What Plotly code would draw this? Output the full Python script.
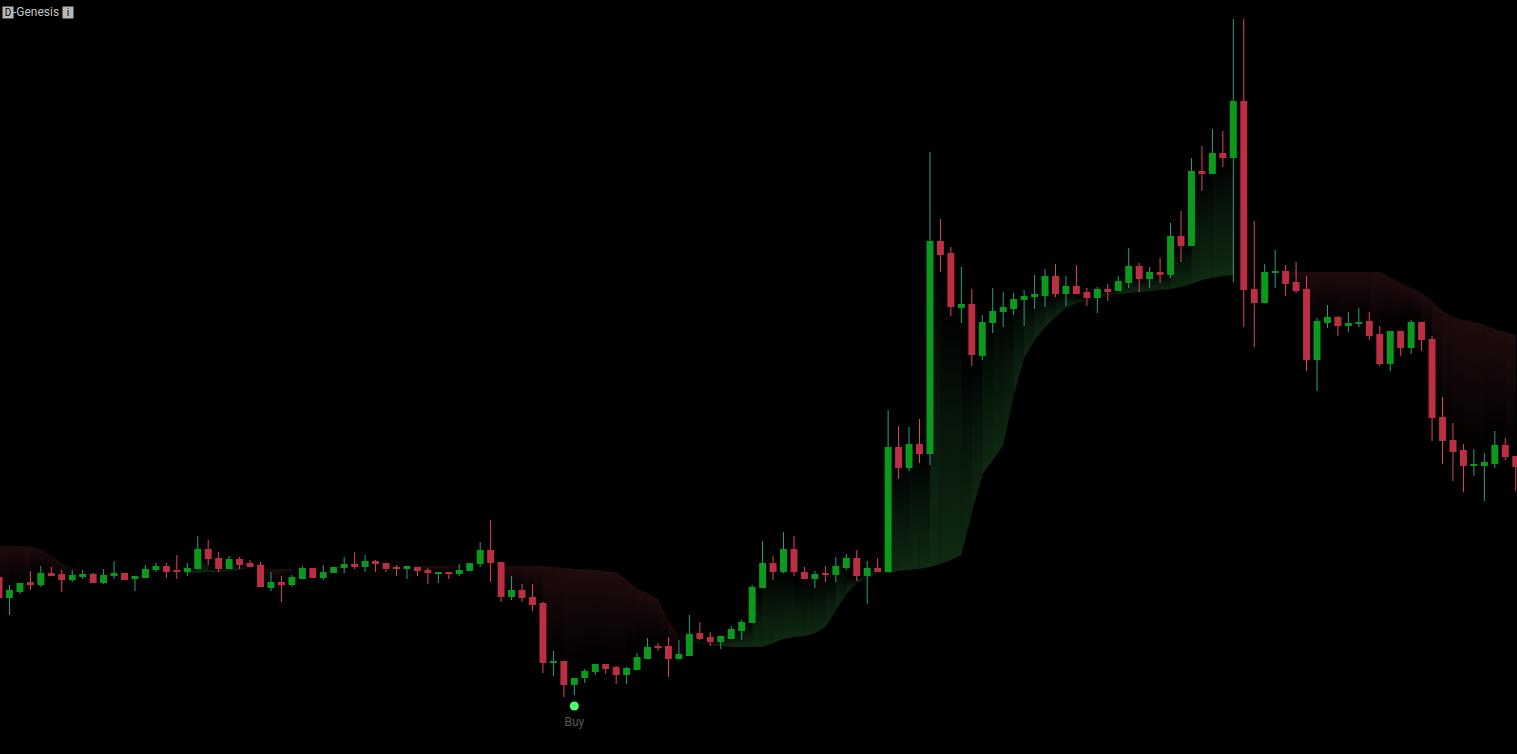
import plotly.graph_objects as go

opens = [177,156,162,172,169,181,180,174,177,180,171,178,181,175,176,184,188,184,182,185,205,196,185,195,191,189,166,172,169,175,186,176,181,186,190,187,193,191,187,185,187,184,180,182,180,183,190,204,192,157,164,157,151,91,93,69,76,82,90,87,79,84,95,108,108,95,98,121,117,112,115,123,131,166,191,182,205,182,175,181,179,186,196,178,186,182,307,286,310,300,513,501,446,450,398,431,442,445,454,457,458,478,460,468,462,456,465,463,471,488,475,482,479,518,508,583,580,601,596,653,465,451,481,483,472,465,394,431,437,428,430,433,420,390,423,406,432,415,337,314,304,288,288,290,309,298]
highs = [177,169,171,183,188,187,184,184,184,181,185,193,181,178,189,191,191,199,191,218,214,202,198,197,194,192,182,178,179,188,186,189,187,197,202,199,194,191,189,188,187,186,182,182,190,191,212,234,192,178,170,170,152,103,93,76,85,90,90,88,87,101,116,111,117,114,139,132,122,118,128,134,169,213,198,222,218,187,183,188,197,200,204,193,196,344,328,327,335,602,535,507,487,465,439,466,462,461,464,479,485,490,478,489,466,467,470,478,506,491,487,496,531,543,596,608,625,623,735,735,533,490,504,489,492,478,436,449,438,442,446,442,428,423,423,434,432,418,357,331,310,305,301,323,316,298]
lows = [156,139,160,164,167,178,162,172,175,171,170,175,174,163,176,182,176,175,178,185,189,182,185,185,187,167,163,152,167,175,176,174,181,181,185,182,182,182,178,175,178,170,171,175,178,183,187,172,152,154,152,143,81,78,57,59,71,79,80,70,70,84,95,103,77,95,98,114,108,105,115,114,131,166,174,181,178,175,166,172,172,184,173,150,182,182,275,283,291,289,482,438,431,388,394,421,427,439,428,445,447,457,448,460,448,441,453,463,466,462,466,471,476,492,508,563,580,587,472,427,407,451,466,458,461,383,363,426,418,422,427,414,388,383,398,400,403,313,290,273,262,278,253,286,294,263]
closes = [156,164,171,169,181,178,174,179,180,171,179,181,174,178,185,188,182,182,186,205,195,185,195,189,187,167,172,169,177,186,176,182,187,190,187,193,190,185,185,188,183,181,182,180,184,191,204,191,157,164,156,149,91,93,69,76,83,90,85,79,86,97,107,106,95,100,120,115,112,118,125,132,167,191,182,205,182,175,180,179,188,196,178,186,182,307,286,310,300,513,499,447,450,399,432,443,447,455,458,460,478,460,468,460,456,465,462,473,488,475,482,479,518,508,583,580,601,596,653,464,451,482,483,470,463,394,433,437,428,431,432,418,390,423,406,432,414,336,313,302,288,290,292,309,297,287]

red_cloud = ([208,208,208,207,205,198,191,186,183,181,180] + [None] * 14
             + [186,185,185,185] + [None] * 11 + [188] * 7
             + [188,188,188,188,188,188,187,186,185,185,184,183,182,174,165,161,155,133,118,113]
             + [None] * 55 + [482] * 11
             + [477,471,466,461,453,443,437,434,432,429,425,422,419])
green_cloud = ([None] * 18 + [180,181,182,182,183,184,186,187] + [None] * 40
               + [113,111,109,108,107,107,107,107,111,115,117,118,121,127,144,160,171,176,180,181,
                  183,184,185,187,190,194,199,242,279,294,309,359,396,414,427,437,446,451,454,457,
                  459,460,461,462,463,464,465,467,470,474,476,478,479,481]
               + [None] * 26)

buy_index = [55]
buy_price = [48]
buy_label_price = [31]
buy_label = ["Buy"]

GREEN = "#0c9a1c"
RED = "#bc2e42"
GREEN_WICK = "#2c9e86"
RED_WICK = "#d84a5c"
GREEN_SCALE = [[0, "rgb(15,42,18)"], [0.5, "rgb(8,24,11)"], [1, "rgb(0,0,0)"]]
RED_SCALE = [[0, "rgb(32,12,13)"], [0.5, "rgb(16,6,7)"], [1, "rgb(0,0,0)"]]
OVERLAP = 0.03

index = list(range(len(opens)))
fig = go.Figure()


def add_cloud(cloud, scale, is_green):
    for i in index[:-1]:
        a, b = cloud[i], cloud[i + 1]
        if a is None or b is None:
            continue
        inner = min(closes[i], closes[i + 1]) if is_green else max(closes[i], closes[i + 1])
        if is_green and inner <= max(a, b):
            continue
        if not is_green and inner >= min(a, b):
            continue
        start = min(a, b) if is_green else max(a, b)
        fig.add_trace(go.Scatter(
            x=[i, i + 1 + OVERLAP, i + 1 + OVERLAP, i], y=[a, b, inner, inner],
            mode="lines", line=dict(width=0), fill="toself",
            fillgradient=dict(type="vertical", start=start, stop=inner, colorscale=scale),
            hoverinfo="skip", showlegend=False))


add_cloud(red_cloud, RED_SCALE, False)
add_cloud(green_cloud, GREEN_SCALE, True)


def wicks(selector, colour):
    xs, ys = [], []
    for i in index:
        if selector(i):
            xs += [i, i, None]
            ys += [lows[i], highs[i], None]
    fig.add_trace(go.Scatter(x=xs, y=ys, mode="lines", line=dict(color=colour, width=1),
                             hoverinfo="skip", showlegend=False))


wicks(lambda i: closes[i] >= opens[i], GREEN_WICK)
wicks(lambda i: closes[i] < opens[i], RED_WICK)

fig.add_trace(go.Candlestick(
    x=index, open=opens, high=highs, low=lows, close=closes,
    xaxis="x2", yaxis="y2",
    increasing=dict(fillcolor=GREEN, line=dict(color=GREEN, width=0)),
    decreasing=dict(fillcolor=RED, line=dict(color=RED, width=0)),
    whiskerwidth=0, showlegend=False))

fig.add_trace(go.Scatter(
    x=buy_index, y=buy_price, mode="markers",
    marker=dict(color="#4dff6e", size=9), showlegend=False))
fig.add_trace(go.Scatter(
    x=buy_index, y=buy_label_price, mode="text", text=buy_label,
    textposition="middle center",
    textfont=dict(family="Roboto", size=12, color="#55595c"), showlegend=False))

annos = [
    dict(text="D", x=2, w=10, bgcolor="#b8b8b8", color="#000000", size=10),
    dict(text="-Genesis", x=12, w=None, bgcolor=None, color="#c4c4c4", size=12),
    dict(text="i", x=62, w=10, bgcolor="#b8b8b8", color="#000000", size=10),
]
for a in annos:
    fig.add_annotation(text=a["text"], xref="paper", yref="paper", x=a["x"] / 1517, y=1 - 12.5 / 754,
                       xanchor="left", yanchor="middle", showarrow=False,
                       bgcolor=a["bgcolor"], borderpad=0, width=a["w"], height=11 if a["w"] else None,
                       font=dict(family="Roboto", size=a["size"], color=a["color"]))

x_range = [0.0956, 145.12]
y_range = [0, 754]
fig.update_layout(
    width=1517, height=754, margin=dict(l=0, r=0, t=0, b=0),
    paper_bgcolor="#000000", plot_bgcolor="#000000", showlegend=False,
    boxgap=0.05, boxgroupgap=0.3,
    xaxis=dict(range=x_range, visible=False),
    yaxis=dict(range=y_range, visible=False),
    xaxis2=dict(range=x_range, visible=False, overlaying="x", rangeslider=dict(visible=False)),
    yaxis2=dict(range=y_range, visible=False, overlaying="y"),
)
fig.write_html("out.html", config={"displayModeBar": False},
               post_script="document.body.style.margin='0';document.body.style.background='#000';document.body.style.overflow='hidden';")
